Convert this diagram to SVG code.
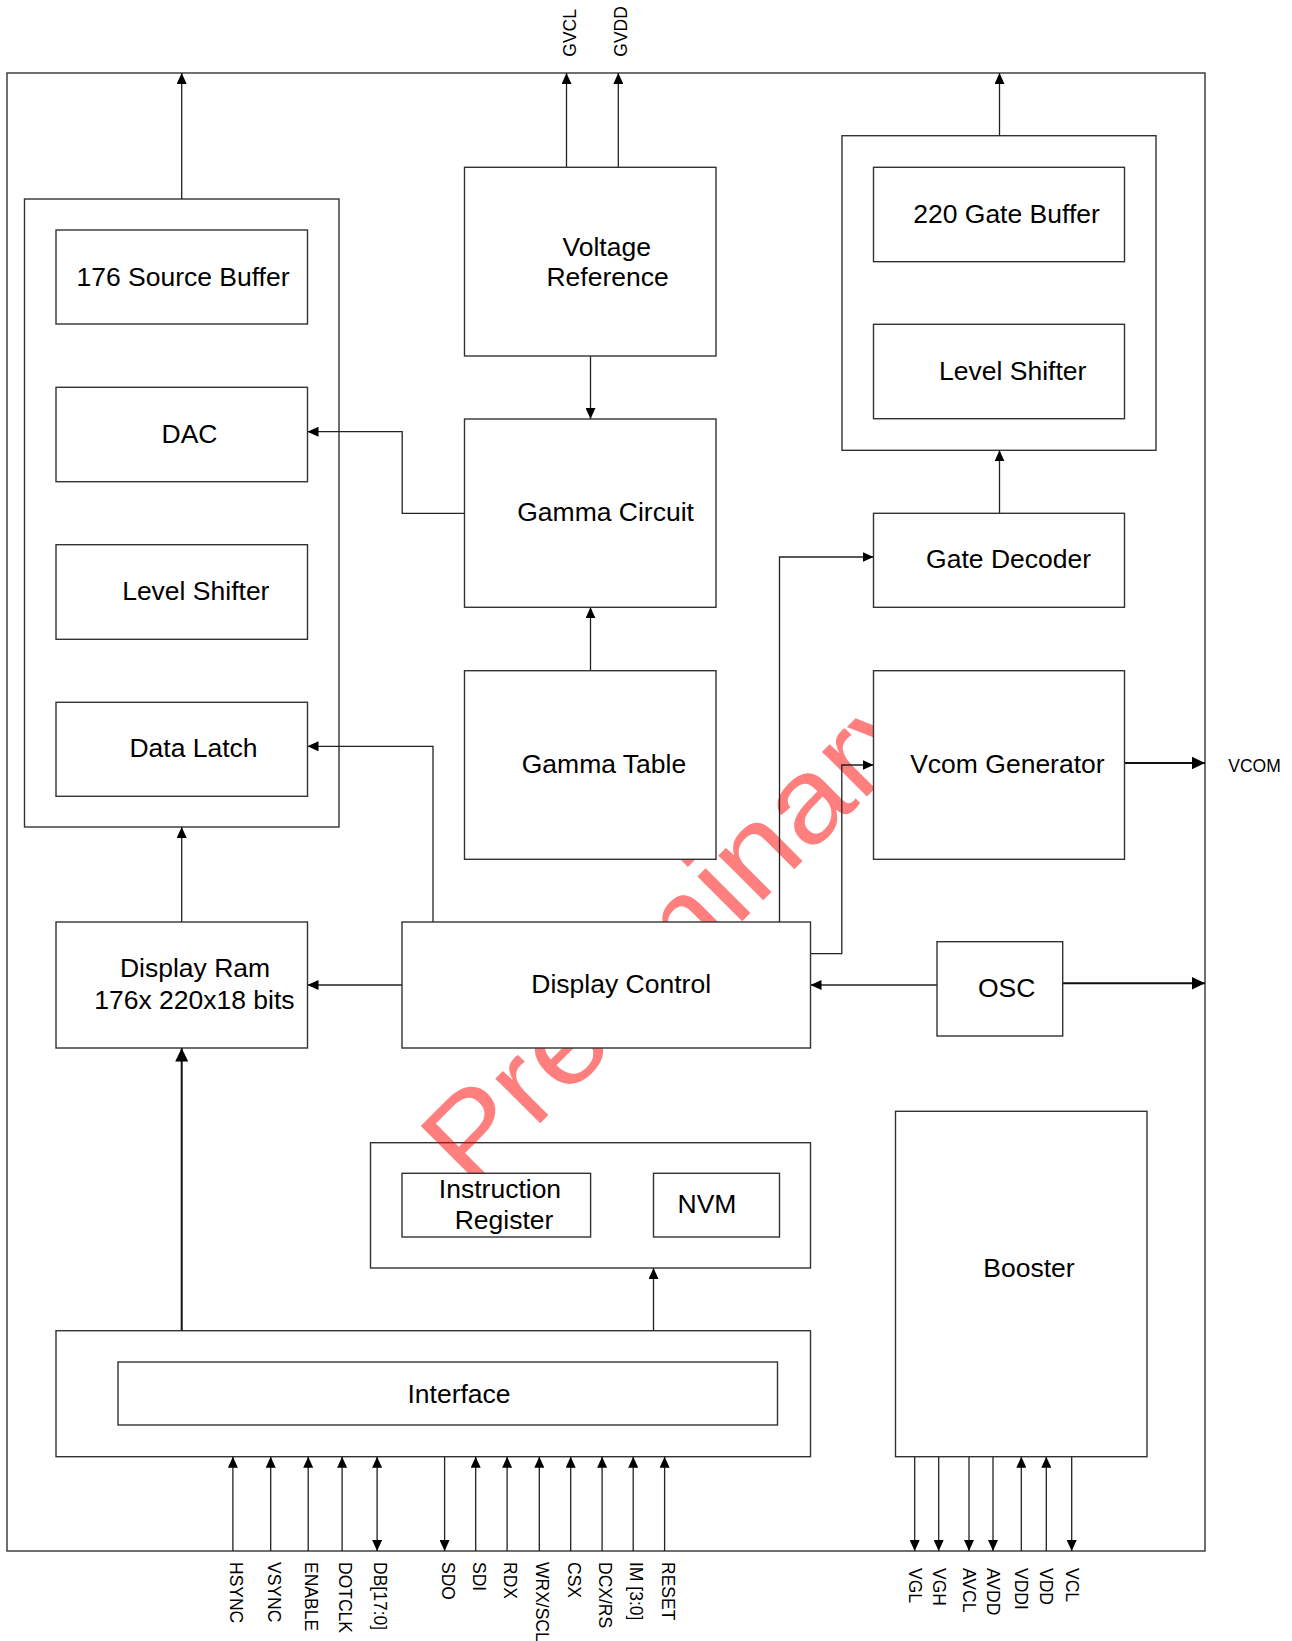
<svg xmlns="http://www.w3.org/2000/svg" width="1292" height="1641" viewBox="0 0 1292 1641">
<defs>
<style>
.box{fill:#fff;stroke:#333;stroke-width:1.4}
.cont{fill:none;stroke:#333;stroke-width:1.4}
.ln{fill:none;stroke:#222;stroke-width:1.3}
.lnb{fill:none;stroke:#111;stroke-width:2}
.t{font-family:"Liberation Sans",Arial,sans-serif;font-size:26.5px;fill:#000;text-anchor:middle}
.p{font-family:"Liberation Sans",Arial,sans-serif;font-size:17.5px;fill:#000}
.wm{font-family:"Liberation Sans",Arial,sans-serif;font-size:120px;fill:#ff0000;fill-opacity:0.5}
</style>
<marker id="a" markerUnits="userSpaceOnUse" markerWidth="12" markerHeight="10" refX="11" refY="5" orient="auto"><path d="M0,0 L11,5 L0,10 z" fill="#000"/></marker>
<marker id="as" markerUnits="userSpaceOnUse" markerWidth="12" markerHeight="10" refX="11" refY="5" orient="auto-start-reverse"><path d="M0,0 L11,5 L0,10 z" fill="#000"/></marker>
<marker id="ab" markerUnits="userSpaceOnUse" markerWidth="14" markerHeight="13" refX="13.5" refY="6.5" orient="auto"><path d="M0,0 L13.5,6.5 L0,13 z" fill="#000"/></marker>
</defs>
<rect width="1292" height="1641" fill="#fff"/>

<g id="containers">
<rect id="chip" class="cont" x="7" y="73" width="1198" height="1478"/>
<rect id="source-block" class="cont" x="24.5" y="199" width="314.5" height="628"/>
<rect id="gate-block" class="cont" x="842" y="135.7" width="314" height="314.6"/>
<rect id="register-block" class="cont" x="370.5" y="1142.7" width="440" height="125.3"/>
<rect id="interface-block" class="cont" x="56" y="1330.7" width="754.5" height="126"/>
</g>

<g id="watermark">
<text class="wm" transform="translate(471.5,1192) rotate(-45)" textLength="660" lengthAdjust="spacingAndGlyphs">Preliminary</text>
</g>

<g id="connectors">
<path class="ln" d="M181.7,199 V73" marker-end="url(#a)"/>
<path class="ln" d="M566.5,167.3 V73" marker-end="url(#a)"/>
<path class="ln" d="M618.3,167.3 V73" marker-end="url(#a)"/>
<path class="ln" d="M590.5,356 V419" marker-end="url(#a)"/>
<path class="ln" d="M464.5,513.3 H402.2 V431.7 H307.5" marker-end="url(#a)"/>
<path class="ln" d="M590.5,670.7 V607.3" marker-end="url(#a)"/>
<path class="ln" d="M999.5,135.7 V73" marker-end="url(#a)"/>
<path class="ln" d="M999.5,513.3 V450.3" marker-end="url(#a)"/>
<path class="lnb" d="M1124.5,763 H1205" marker-end="url(#ab)"/>
<path class="ln" d="M433,922 V746.3 H307.5" marker-end="url(#a)"/>
<path class="ln" d="M779.5,922 V557 H873.5" marker-end="url(#a)"/>
<path class="ln" d="M810.5,953.7 H841.8 V765 H873.5" marker-end="url(#a)"/>
<path class="ln" d="M402,985 H307.5" marker-end="url(#a)"/>
<path class="ln" d="M181.7,922 V827" marker-end="url(#a)"/>
<path class="ln" d="M937,985 H810.5" marker-end="url(#a)"/>
<path class="lnb" d="M1062.7,983.3 H1205" marker-end="url(#ab)"/>
<path class="lnb" d="M181.7,1330.7 V1048" marker-end="url(#ab)"/>
<path class="ln" d="M653.5,1330.7 V1268" marker-end="url(#a)"/>
<!-- interface pins -->
<path class="ln" d="M232.9,1551 V1456.7" marker-end="url(#a)"/>
<path class="ln" d="M270.7,1551 V1456.7" marker-end="url(#a)"/>
<path class="ln" d="M308.2,1551 V1456.7" marker-end="url(#a)"/>
<path class="ln" d="M342.1,1551 V1456.7" marker-end="url(#a)"/>
<path class="ln" d="M377.1,1551 V1456.7" marker-start="url(#as)" marker-end="url(#a)"/>
<path class="ln" d="M444.6,1456.7 V1551" marker-end="url(#a)"/>
<path class="ln" d="M475.7,1551 V1456.7" marker-end="url(#a)"/>
<path class="ln" d="M507.1,1551 V1456.7" marker-end="url(#a)"/>
<path class="ln" d="M539.3,1551 V1456.7" marker-end="url(#a)"/>
<path class="ln" d="M570.7,1551 V1456.7" marker-end="url(#a)"/>
<path class="ln" d="M602.1,1551 V1456.7" marker-end="url(#a)"/>
<path class="ln" d="M633.2,1551 V1456.7" marker-end="url(#a)"/>
<path class="ln" d="M664.6,1551 V1456.7" marker-end="url(#a)"/>
<!-- booster pins -->
<path class="ln" d="M914.7,1456.7 V1551" marker-end="url(#a)"/>
<path class="ln" d="M938.7,1456.7 V1551" marker-end="url(#a)"/>
<path class="ln" d="M969,1456.7 V1551" marker-end="url(#a)"/>
<path class="ln" d="M993,1456.7 V1551" marker-end="url(#a)"/>
<path class="ln" d="M1021.3,1551 V1456.7" marker-end="url(#a)"/>
<path class="ln" d="M1046.3,1551 V1456.7" marker-end="url(#a)"/>
<path class="ln" d="M1071.7,1456.7 V1551" marker-end="url(#a)"/>
</g>

<g id="source-buffer"><rect class="box" x="56" y="230" width="251.5" height="94"/><text class="t" x="183" y="285.5">176 Source Buffer</text></g>
<g id="dac"><rect class="box" x="56" y="387.3" width="251.5" height="94.4"/><text class="t" x="189.5" y="442.7">DAC</text></g>
<g id="level-shifter-src"><rect class="box" x="56" y="544.7" width="251.5" height="94.6"/><text class="t" x="195.8" y="600">Level Shifter</text></g>
<g id="data-latch"><rect class="box" x="56" y="702.3" width="251.5" height="94"/><text class="t" x="193.5" y="756.7">Data Latch</text></g>

<g id="voltage-reference"><rect class="box" x="464.5" y="167.3" width="251.5" height="188.7"/><text class="t" x="606.7" y="255.5">Voltage</text><text class="t" x="607.6" y="285.7">Reference</text></g>
<g id="gamma-circuit"><rect class="box" x="464.5" y="419" width="251.5" height="188.3"/><text class="t" x="605.6" y="520.7">Gamma Circuit</text></g>
<g id="gamma-table"><rect class="box" x="464.5" y="670.7" width="251.5" height="188.6"/><text class="t" x="604" y="773.3">Gamma Table</text></g>

<g id="gate-buffer"><rect class="box" x="873.5" y="167.3" width="251" height="94.4"/><text class="t" x="1006.5" y="222.7">220 Gate Buffer</text></g>
<g id="level-shifter-gate"><rect class="box" x="873.5" y="324.3" width="251" height="94.4"/><text class="t" x="1012.7" y="380">Level Shifter</text></g>
<g id="gate-decoder"><rect class="box" x="873.5" y="513.3" width="251" height="94"/><text class="t" x="1008.6" y="568.3">Gate Decoder</text></g>
<g id="vcom-generator"><rect class="box" x="873.5" y="670.7" width="251" height="188.6"/><text class="t" x="1007.4" y="772.7">Vcom Generator</text></g>

<g id="display-ram"><rect class="box" x="56" y="922" width="251.5" height="126"/><text class="t" x="195" y="977.3">Display Ram</text><text class="t" x="194.4" y="1009.3">176x 220x18 bits</text></g>
<g id="display-control"><rect class="box" x="402" y="922" width="408.5" height="126"/><text class="t" x="621.2" y="992.5">Display Control</text></g>
<g id="osc"><rect class="box" x="937" y="941.7" width="125.7" height="94.3"/><text class="t" x="1006.7" y="996.7">OSC</text></g>

<g id="instruction-register"><rect class="box" x="402" y="1173.3" width="188.6" height="63.7"/><text class="t" x="500" y="1197.7">Instruction</text><text class="t" x="504" y="1229">Register</text></g>
<g id="nvm"><rect class="box" x="653.5" y="1173.3" width="126" height="63.7"/><text class="t" x="707" y="1212.7">NVM</text></g>

<g id="interface"><rect class="box" x="118" y="1362" width="659.5" height="63"/><text class="t" x="459" y="1402.5">Interface</text></g>
<g id="booster"><rect class="box" x="895.5" y="1111.3" width="251.5" height="345.4"/><text class="t" x="1029" y="1277.3">Booster</text></g>

<g id="pin-labels">
<text class="p" transform="translate(575.5,56.7) rotate(-90)">GVCL</text>
<text class="p" transform="translate(627.3,56.7) rotate(-90)">GVDD</text>
<text class="p" x="1228.3" y="772">VCOM</text>
<text class="p" transform="translate(229.9,1562) rotate(90)">HSYNC</text>
<text class="p" transform="translate(267.7,1562) rotate(90)">VSYNC</text>
<text class="p" transform="translate(305.2,1562) rotate(90)">ENABLE</text>
<text class="p" transform="translate(339.1,1562) rotate(90)">DOTCLK</text>
<text class="p" transform="translate(374.1,1562) rotate(90)">DB[17:0]</text>
<text class="p" transform="translate(441.6,1562) rotate(90)">SDO</text>
<text class="p" transform="translate(472.7,1562) rotate(90)">SDI</text>
<text class="p" transform="translate(504.1,1562) rotate(90)">RDX</text>
<text class="p" transform="translate(536.3,1562) rotate(90)">WRX/SCL</text>
<text class="p" transform="translate(567.7,1562) rotate(90)">CSX</text>
<text class="p" transform="translate(599.1,1562) rotate(90)">DCX/RS</text>
<text class="p" transform="translate(630.2,1562) rotate(90)">IM [3:0]</text>
<text class="p" transform="translate(661.6,1562) rotate(90)">RESET</text>
<text class="p" transform="translate(908.6,1568) rotate(90)">VGL</text>
<text class="p" transform="translate(932.6,1568) rotate(90)">VGH</text>
<text class="p" transform="translate(962.9,1568) rotate(90)">AVCL</text>
<text class="p" transform="translate(986.9,1568) rotate(90)">AVDD</text>
<text class="p" transform="translate(1015.2,1568) rotate(90)">VDDI</text>
<text class="p" transform="translate(1040.2,1568) rotate(90)">VDD</text>
<text class="p" transform="translate(1065.6,1568) rotate(90)">VCL</text>
</g>
</svg>
